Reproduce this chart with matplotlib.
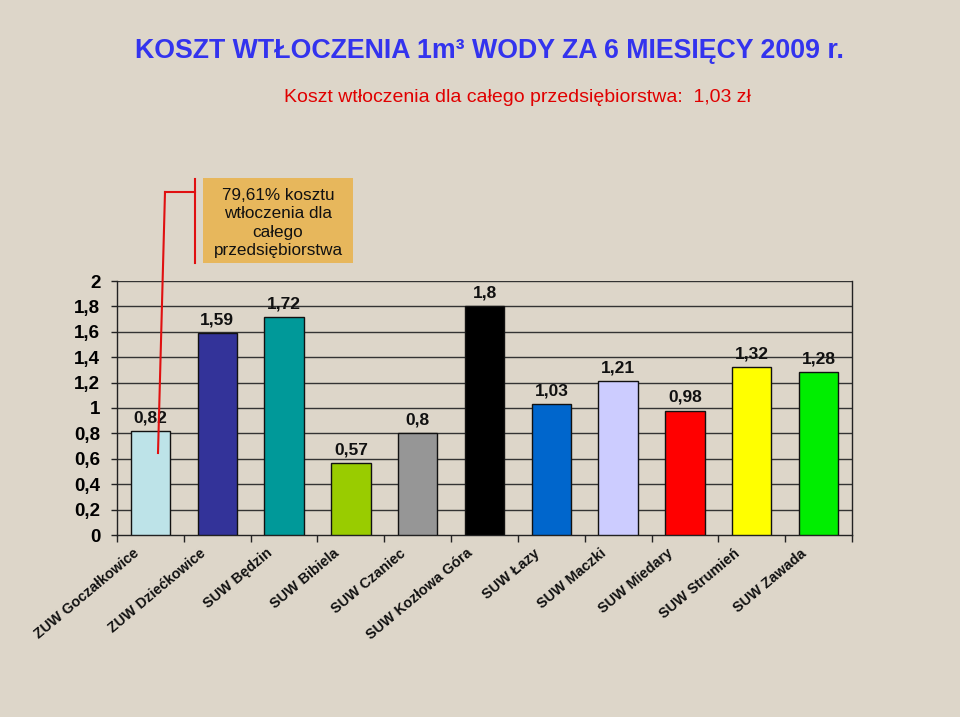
import matplotlib
matplotlib.use("Agg")
import matplotlib.pyplot as plt
from matplotlib.lines import Line2D
from matplotlib.patches import Rectangle

categories = ["ZUW Goczałkowice", "ZUW Dziećkowice", "SUW Będzin", "SUW Bibiela",
              "SUW Czaniec", "SUW Kozłowa Góra", "SUW Łazy", "SUW Maczki",
              "SUW Miedary", "SUW Strumień", "SUW Zawada"]
values = [0.82, 1.59, 1.72, 0.57, 0.8, 1.8, 1.03, 1.21, 0.98, 1.32, 1.28]
value_labels = ["0,82", "1,59", "1,72", "0,57", "0,8", "1,8", "1,03", "1,21", "0,98", "1,32", "1,28"]
colors = ["#BDE3E8", "#333399", "#009999", "#99CC00", "#969696", "#000000",
          "#0066CC", "#CCCCFF", "#FF0000", "#FFFF00", "#00EE00"]
yticks = [0, 0.2, 0.4, 0.6, 0.8, 1.0, 1.2, 1.4, 1.6, 1.8, 2.0]
ytick_labels = ["0", "0,2", "0,4", "0,6", "0,8", "1", "1,2", "1,4", "1,6", "1,8", "2"]

title = "KOSZT WTŁOCZENIA 1m³ WODY ZA 6 MIESIĘCY 2009 r."
subtitle = "Koszt wtłoczenia dla całego przedsiębiorstwa:  1,03 zł"
note = "79,61% kosztu\nwtłoczenia dla\ncałego\nprzedsiębiorstwa"

plt.rcParams['font.family'] = ['Liberation Sans', 'DejaVu Sans']
bg = "#DDD6C9"
W, H = 960, 717
fig = plt.figure(figsize=(9.6, 7.17), dpi=100, facecolor=bg)

def fx(x):
    return x / W

def fy(y):
    return 1 - y / H

ax = fig.add_axes([fx(117), fy(535), fx(852) - fx(117), fy(281) - fy(535)])
ax.set_facecolor("none")
x = list(range(len(categories)))
ax.bar(x, values, width=0.59, color=colors, edgecolor="#111111", linewidth=1.0, zorder=3)
ax.set_xlim(-0.5, len(categories) - 0.5)
ax.set_ylim(0, 2)
ax.set_yticks(yticks)
ax.set_yticklabels(ytick_labels, fontsize=13.5, fontweight="bold")
for yv in yticks[1:]:
    ax.axhline(yv, color="#333333", linewidth=1.0, zorder=1)
ax.tick_params(axis="y", length=4, width=1, color="#222222", pad=8)
ax.set_xticks([i + 0.5 for i in range(-1, len(categories))], minor=False)
ax.set_xticklabels([])
ax.tick_params(axis="x", length=5, width=1, color="#222222", direction="out")
for s in ["left", "bottom", "right"]:
    ax.spines[s].set_color("#222222")
    ax.spines[s].set_linewidth(1.0)
ax.spines["top"].set_visible(False)

for i, (v, lab) in enumerate(zip(values, value_labels)):
    ax.annotate(lab, (i, v), xytext=(0, 4), textcoords="offset points",
                ha="center", va="bottom", fontsize=12.5, fontweight="bold", color="#111111")

for i, cat in enumerate(categories):
    ax.annotate(cat, (i, 0), xytext=(-13, -8), textcoords="offset points",
                ha="right", va="top", rotation=40, rotation_mode="anchor",
                fontsize=10.4, fontweight="bold", color="#111111")

fig.text(fx(489), fy(51), title, ha="center", va="center", fontsize=19.3,
         fontweight="bold", color="#3333EE")
fig.text(fx(517), fy(98), subtitle, ha="center", va="center", fontsize=14,
         color="#E00000")

# note box
fig.patches.append(Rectangle((fx(203), fy(263)), fx(353) - fx(203), fy(178) - fy(263),
                             transform=fig.transFigure, facecolor="#E7B75C",
                             edgecolor="none", zorder=2))
fig.text(fx(278), fy(223), note, ha="center", va="center", fontsize=12.3,
         color="#111111", linespacing=1.3, zorder=3)

red = "#E01010"
fig.add_artist(Line2D([fx(165), fx(158)], [fy(192), fy(453)], color=red, lw=1.5,
                      transform=fig.transFigure, zorder=5))
fig.add_artist(Line2D([fx(165), fx(195)], [fy(192), fy(192)], color=red, lw=1.5,
                      transform=fig.transFigure, zorder=5))
fig.add_artist(Line2D([fx(195), fx(195)], [fy(179), fy(263)], color=red, lw=1.5,
                      transform=fig.transFigure, zorder=5))

fig.savefig("out.png", dpi=100, facecolor=bg)
